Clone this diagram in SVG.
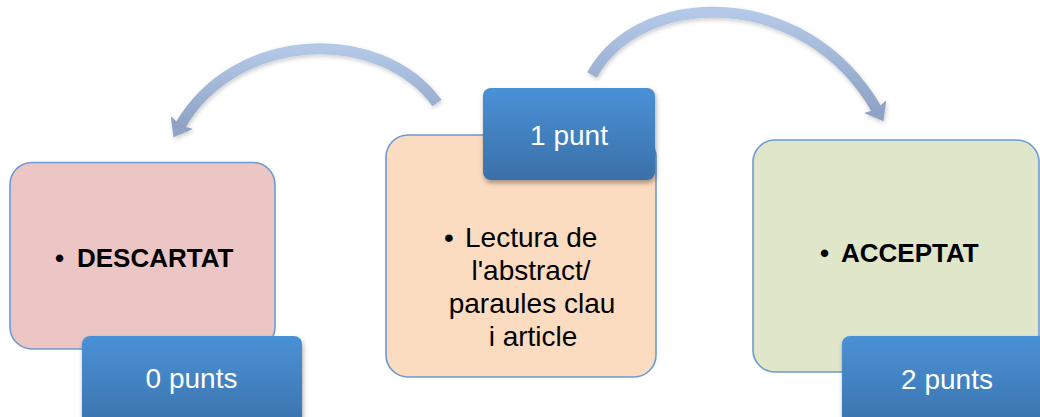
<svg xmlns="http://www.w3.org/2000/svg" width="1040" height="417" viewBox="0 0 1040 417">
<style>
.box{stroke:#6b9bd1;stroke-width:1.6}
.lbl{fill:url(#blueGrad);filter:url(#shadow)}
.ltxt{font-family:"Liberation Sans",Arial,sans-serif;font-size:28px;fill:#ffffff;text-anchor:middle}
.btxt{font-family:"Liberation Sans",Arial,sans-serif;font-size:26px;font-weight:bold;fill:#000000}
.ctxt{font-family:"Liberation Sans",Arial,sans-serif;font-size:28px;fill:#000000}
.arc{fill:none;stroke:url(#arcGrad);stroke-width:11;filter:url(#ashadow)}
</style>
<defs>
<linearGradient id="blueGrad" x1="0" y1="0" x2="0" y2="1">
<stop offset="0" stop-color="#4a91d6"/>
<stop offset="1" stop-color="#3a70a8"/>
</linearGradient>
<linearGradient id="arcGrad" x1="0" y1="0" x2="0" y2="1">
<stop offset="0" stop-color="#b4c8e7"/>
<stop offset="1" stop-color="#8fa3c6"/>
</linearGradient>
<filter id="shadow" x="-20%" y="-20%" width="140%" height="150%">
<feDropShadow dx="1" dy="3" stdDeviation="2.5" flood-color="#000" flood-opacity="0.35"/>
</filter>
<filter id="ashadow" x="-20%" y="-20%" width="140%" height="150%">
<feDropShadow dx="1" dy="2" stdDeviation="2" flood-color="#000" flood-opacity="0.2"/>
</filter>
<marker id="head" markerUnits="userSpaceOnUse" markerWidth="17" markerHeight="26" refX="4" refY="13" orient="auto" viewBox="0 0 17 26">
<path d="M0,0 L17,13 L0,26 L3,13 Z" fill="#8fa3c6"/>
</marker>
</defs>

<g id="connectors">
<path class="arc" d="M437,103 C380,25 235,30 180,126" marker-end="url(#head)"/>
<path class="arc" d="M592,75 C640,-12 805,-16 877,110" marker-end="url(#head)"/>
</g>

<g id="descartat">
<rect class="box" x="10" y="162.5" width="265" height="186.5" rx="22" fill="#ebc6c5"/>
<text class="btxt" y="267"><tspan x="55">•</tspan><tspan x="77">DESCARTAT</tspan></text>
</g>
<g id="punts0">
<rect class="lbl" x="82" y="336" width="220" height="100" rx="8"/>
<text class="ltxt" x="191.5" y="388">0 punts</text>
</g>

<g id="lectura">
<rect class="box" x="386" y="135" width="270" height="242" rx="22" fill="#fbdcc0"/>
<text class="ctxt" y="247"><tspan x="444">•</tspan><tspan x="465">Lectura de</tspan></text>
<text class="ctxt" text-anchor="middle"><tspan x="531" y="280">l'abstract/</tspan><tspan x="532" y="313">paraules clau</tspan><tspan x="533" y="346">i article</tspan></text>
</g>
<g id="punt1">
<rect class="lbl" x="483" y="88" width="172" height="92" rx="8"/>
<text class="ltxt" x="569" y="145">1 punt</text>
</g>

<g id="acceptat">
<rect class="box" x="753" y="140" width="286" height="232" rx="22" fill="#dfe6c9"/>
<text class="btxt" y="262"><tspan x="820">•</tspan><tspan x="841">ACCEPTAT</tspan></text>
</g>
<g id="punts2">
<rect class="lbl" x="842" y="336" width="220" height="100" rx="8"/>
<text class="ltxt" x="947" y="389">2 punts</text>
</g>
</svg>
